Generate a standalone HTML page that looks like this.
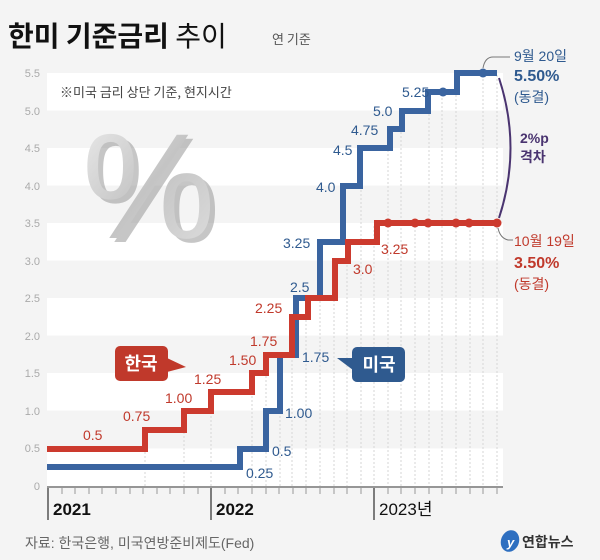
<!DOCTYPE html>
<html><head><meta charset="utf-8"><style>
body{margin:0;background:#f4f4f4;}
svg{display:block;font-family:"Liberation Sans","Noto Sans CJK KR",sans-serif;}
</style></head><body>
<svg width="600" height="560" viewBox="0 0 600 560" xmlns="http://www.w3.org/2000/svg">
<defs>
<linearGradient id="pg" x1="0" y1="0" x2="1" y2="1"><stop offset="0" stop-color="#eeeeee"/><stop offset="0.5" stop-color="#c4c4c4"/><stop offset="1" stop-color="#e0e0e0"/></linearGradient>
</defs>
<rect width="600" height="560" fill="#f4f4f4"/>
<text x="8" y="46" font-size="28" font-weight="bold" fill="#111" font-family="'Noto Sans CJK KR',sans-serif">한미 기준금리 <tspan font-weight="normal">추이</tspan></text>
<text x="272" y="44" font-size="13" fill="#555" font-family="'Noto Sans CJK KR',sans-serif">연 기준</text>
<g fill="#ffffff">
<rect x="47" y="73" width="456" height="37.5"/>
<rect x="47" y="148" width="456" height="37.5"/>
<rect x="47" y="223" width="456" height="37.5"/>
<rect x="47" y="298" width="456" height="37.5"/>
<rect x="47" y="373" width="456" height="37.5"/>
<rect x="47" y="448.5" width="456" height="37.5"/>
</g>
<g font-size="11" fill="#aaa" text-anchor="end">
<text x="40" y="77">5.5</text><text x="40" y="115">5.0</text><text x="40" y="152">4.5</text><text x="40" y="190">4.0</text><text x="40" y="227">3.5</text><text x="40" y="265">3.0</text><text x="40" y="302">2.5</text><text x="40" y="340">2.0</text><text x="40" y="377">1.5</text><text x="40" y="415">1.0</text><text x="40" y="452">0.5</text><text x="40" y="490">0</text>
</g>
<text x="60" y="97" font-size="13" fill="#444" font-family="'Noto Sans CJK KR',sans-serif">※미국 금리 상단 기준, 현지시간</text>
<text x="82" y="238" font-size="150" fill="#999" opacity="0.55" transform="translate(5,4)">%</text>
<text x="82" y="238" font-size="150" fill="url(#pg)">%</text>
<g stroke="#d6d6d6" stroke-width="1" stroke-dasharray="2,2">
<line x1="145" y1="448" x2="145" y2="486"/><line x1="184" y1="420" x2="184" y2="486"/><line x1="211" y1="400" x2="211" y2="486"/>
<line x1="252" y1="380" x2="252" y2="486"/><line x1="266" y1="360" x2="266" y2="486"/><line x1="280" y1="360" x2="280" y2="486"/>
<line x1="292" y1="320" x2="292" y2="486"/><line x1="306" y1="300" x2="306" y2="486"/><line x1="320" y1="245" x2="320" y2="486"/>
<line x1="334" y1="260" x2="334" y2="486"/><line x1="347" y1="245" x2="347" y2="486"/><line x1="361" y1="150" x2="361" y2="486"/>
<line x1="374" y1="226" x2="374" y2="486"/><line x1="388" y1="130" x2="388" y2="486"/><line x1="401" y1="112" x2="401" y2="486"/>
<line x1="415" y1="226" x2="415" y2="486"/><line x1="429" y1="94" x2="429" y2="486"/><line x1="442" y1="94" x2="442" y2="486"/>
<line x1="456" y1="75" x2="456" y2="486"/><line x1="470" y1="226" x2="470" y2="486"/><line x1="483" y1="75" x2="483" y2="486"/><line x1="497" y1="75" x2="497" y2="486"/>
</g>
<line x1="47" y1="487" x2="503" y2="487" stroke="#777" stroke-width="1.5"/>
<g stroke="#999" stroke-width="1">
<line x1="62" y1="488" x2="62" y2="494"/><line x1="75" y1="488" x2="75" y2="494"/><line x1="89" y1="488" x2="89" y2="494"/><line x1="102" y1="488" x2="102" y2="494"/><line x1="116" y1="488" x2="116" y2="494"/><line x1="130" y1="488" x2="130" y2="494"/><line x1="143" y1="488" x2="143" y2="494"/><line x1="157" y1="488" x2="157" y2="494"/><line x1="170" y1="488" x2="170" y2="494"/><line x1="184" y1="488" x2="184" y2="494"/><line x1="198" y1="488" x2="198" y2="494"/>
<line x1="225" y1="488" x2="225" y2="494"/><line x1="238" y1="488" x2="238" y2="494"/><line x1="252" y1="488" x2="252" y2="494"/><line x1="266" y1="488" x2="266" y2="494"/><line x1="279" y1="488" x2="279" y2="494"/><line x1="293" y1="488" x2="293" y2="494"/><line x1="306" y1="488" x2="306" y2="494"/><line x1="320" y1="488" x2="320" y2="494"/><line x1="334" y1="488" x2="334" y2="494"/><line x1="347" y1="488" x2="347" y2="494"/><line x1="361" y1="488" x2="361" y2="494"/>
<line x1="388" y1="488" x2="388" y2="494"/><line x1="401" y1="488" x2="401" y2="494"/><line x1="415" y1="488" x2="415" y2="494"/><line x1="429" y1="488" x2="429" y2="494"/><line x1="442" y1="488" x2="442" y2="494"/><line x1="456" y1="488" x2="456" y2="494"/><line x1="470" y1="488" x2="470" y2="494"/><line x1="483" y1="488" x2="483" y2="494"/><line x1="497" y1="488" x2="497" y2="494"/>
</g>
<g stroke="#555" stroke-width="1.5"><line x1="48" y1="488" x2="48" y2="520"/><line x1="211" y1="488" x2="211" y2="520"/><line x1="374" y1="488" x2="374" y2="520"/></g>
<g font-size="17" font-weight="bold" fill="#111"><text x="53" y="515">2021</text><text x="216" y="515">2022</text><text x="379" y="515" font-weight="normal" font-family="'Liberation Sans','Noto Sans CJK KR',sans-serif">2023년</text></g>
<polyline fill="none" stroke="#3a64a0" stroke-width="6" points="47,467 240,467 240,449 266,449 266,411 280,411 280,355 296,355 296,298 320,298 320,242 343,242 343,186 360,186 360,148 390,148 390,129 402,129 402,111 428,111 428,92 457,92 457,73 497,73"/>
<polyline fill="none" stroke="#cc3a2e" stroke-width="6" points="47,449 145,449 145,430 184,430 184,411 211,411 211,392 252,392 252,373 266,373 266,355 292,355 292,317 308,317 308,298 335,298 335,261 348,261 348,242 377,242 377,223 497,223"/>
<g fill="#cc3a2e"><circle cx="388" cy="223" r="4.5"/><circle cx="415" cy="223" r="4.5"/><circle cx="428" cy="223" r="4.5"/><circle cx="456" cy="223" r="4.5"/><circle cx="469" cy="223" r="4.5"/><circle cx="497" cy="223" r="4.5"/></g>
<g fill="#3a64a0"><circle cx="443" cy="92" r="4.5"/><circle cx="483" cy="73" r="4.5"/></g>
<g font-size="14" fill="#c0392b">
<text x="83" y="440">0.5</text><text x="123" y="421">0.75</text><text x="165" y="403">1.00</text><text x="194" y="384">1.25</text><text x="229" y="365">1.50</text><text x="250" y="346">1.75</text><text x="255" y="313">2.25</text><text x="353" y="274">3.0</text><text x="381" y="254">3.25</text>
</g>
<g font-size="14" fill="#2f5a8f">
<text x="246" y="478">0.25</text><text x="272" y="456">0.5</text><text x="285" y="418">1.00</text><text x="302" y="362">1.75</text><text x="290" y="292">2.5</text><text x="283" y="248">3.25</text><text x="316" y="192">4.0</text><text x="333" y="155">4.5</text><text x="351" y="135">4.75</text><text x="373" y="116">5.0</text><text x="402" y="97">5.25</text>
</g>
<rect x="115" y="346" width="53" height="35" rx="5" fill="#c0392b"/>
<polygon points="167,358 186,367 167,372" fill="#c0392b"/>
<text x="141" y="370" font-size="18" font-weight="bold" fill="#fff" text-anchor="middle" font-family="'Noto Sans CJK KR',sans-serif">한국</text>
<rect x="352" y="347" width="53" height="35" rx="5" fill="#2f5a8f"/>
<polygon points="353,358 337,358 353,370" fill="#2f5a8f"/>
<text x="379" y="371" font-size="18" font-weight="bold" fill="#fff" text-anchor="middle" font-family="'Noto Sans CJK KR',sans-serif">미국</text>
<path d="M483,68 Q485,57 493,57 L510,57" fill="none" stroke="#777" stroke-width="1"/>
<path d="M498,228 Q500,238 508,240 L513,240" fill="none" stroke="#777" stroke-width="1"/>
<path d="M499,78 Q522,148 499,218" fill="none" stroke="#4a3470" stroke-width="2"/>
<g font-family="'Liberation Sans','Noto Sans CJK KR',sans-serif">
<text x="514" y="61" font-size="14" fill="#2f5a8f">9월 20일</text>
<text x="514" y="81" font-size="16" font-weight="bold" fill="#2f5a8f">5.50%</text>
<text x="514" y="102" font-size="14" fill="#2f5a8f">(동결)</text>
<text x="520" y="143" font-size="14" font-weight="bold" fill="#4a3470">2%p</text>
<text x="520" y="162" font-size="14" font-weight="bold" fill="#4a3470">격차</text>
<text x="514" y="246" font-size="14" fill="#c0392b">10월 19일</text>
<text x="514" y="268" font-size="16" font-weight="bold" fill="#c0392b">3.50%</text>
<text x="514" y="289" font-size="14" fill="#c0392b">(동결)</text>
<text x="25" y="548" font-size="14" fill="#666">자료: 한국은행, 미국연방준비제도(Fed)</text>
</g>
<ellipse cx="510" cy="541" rx="9" ry="11" fill="#2e6fc0" transform="rotate(20 510 541)"/>
<text x="507" y="547" font-size="13" font-style="italic" font-weight="bold" fill="#fff">y</text>
<text x="522" y="547" font-size="14" font-weight="bold" fill="#333" font-family="'Noto Sans CJK KR',sans-serif">연합뉴스</text>
</svg>
</body></html>
